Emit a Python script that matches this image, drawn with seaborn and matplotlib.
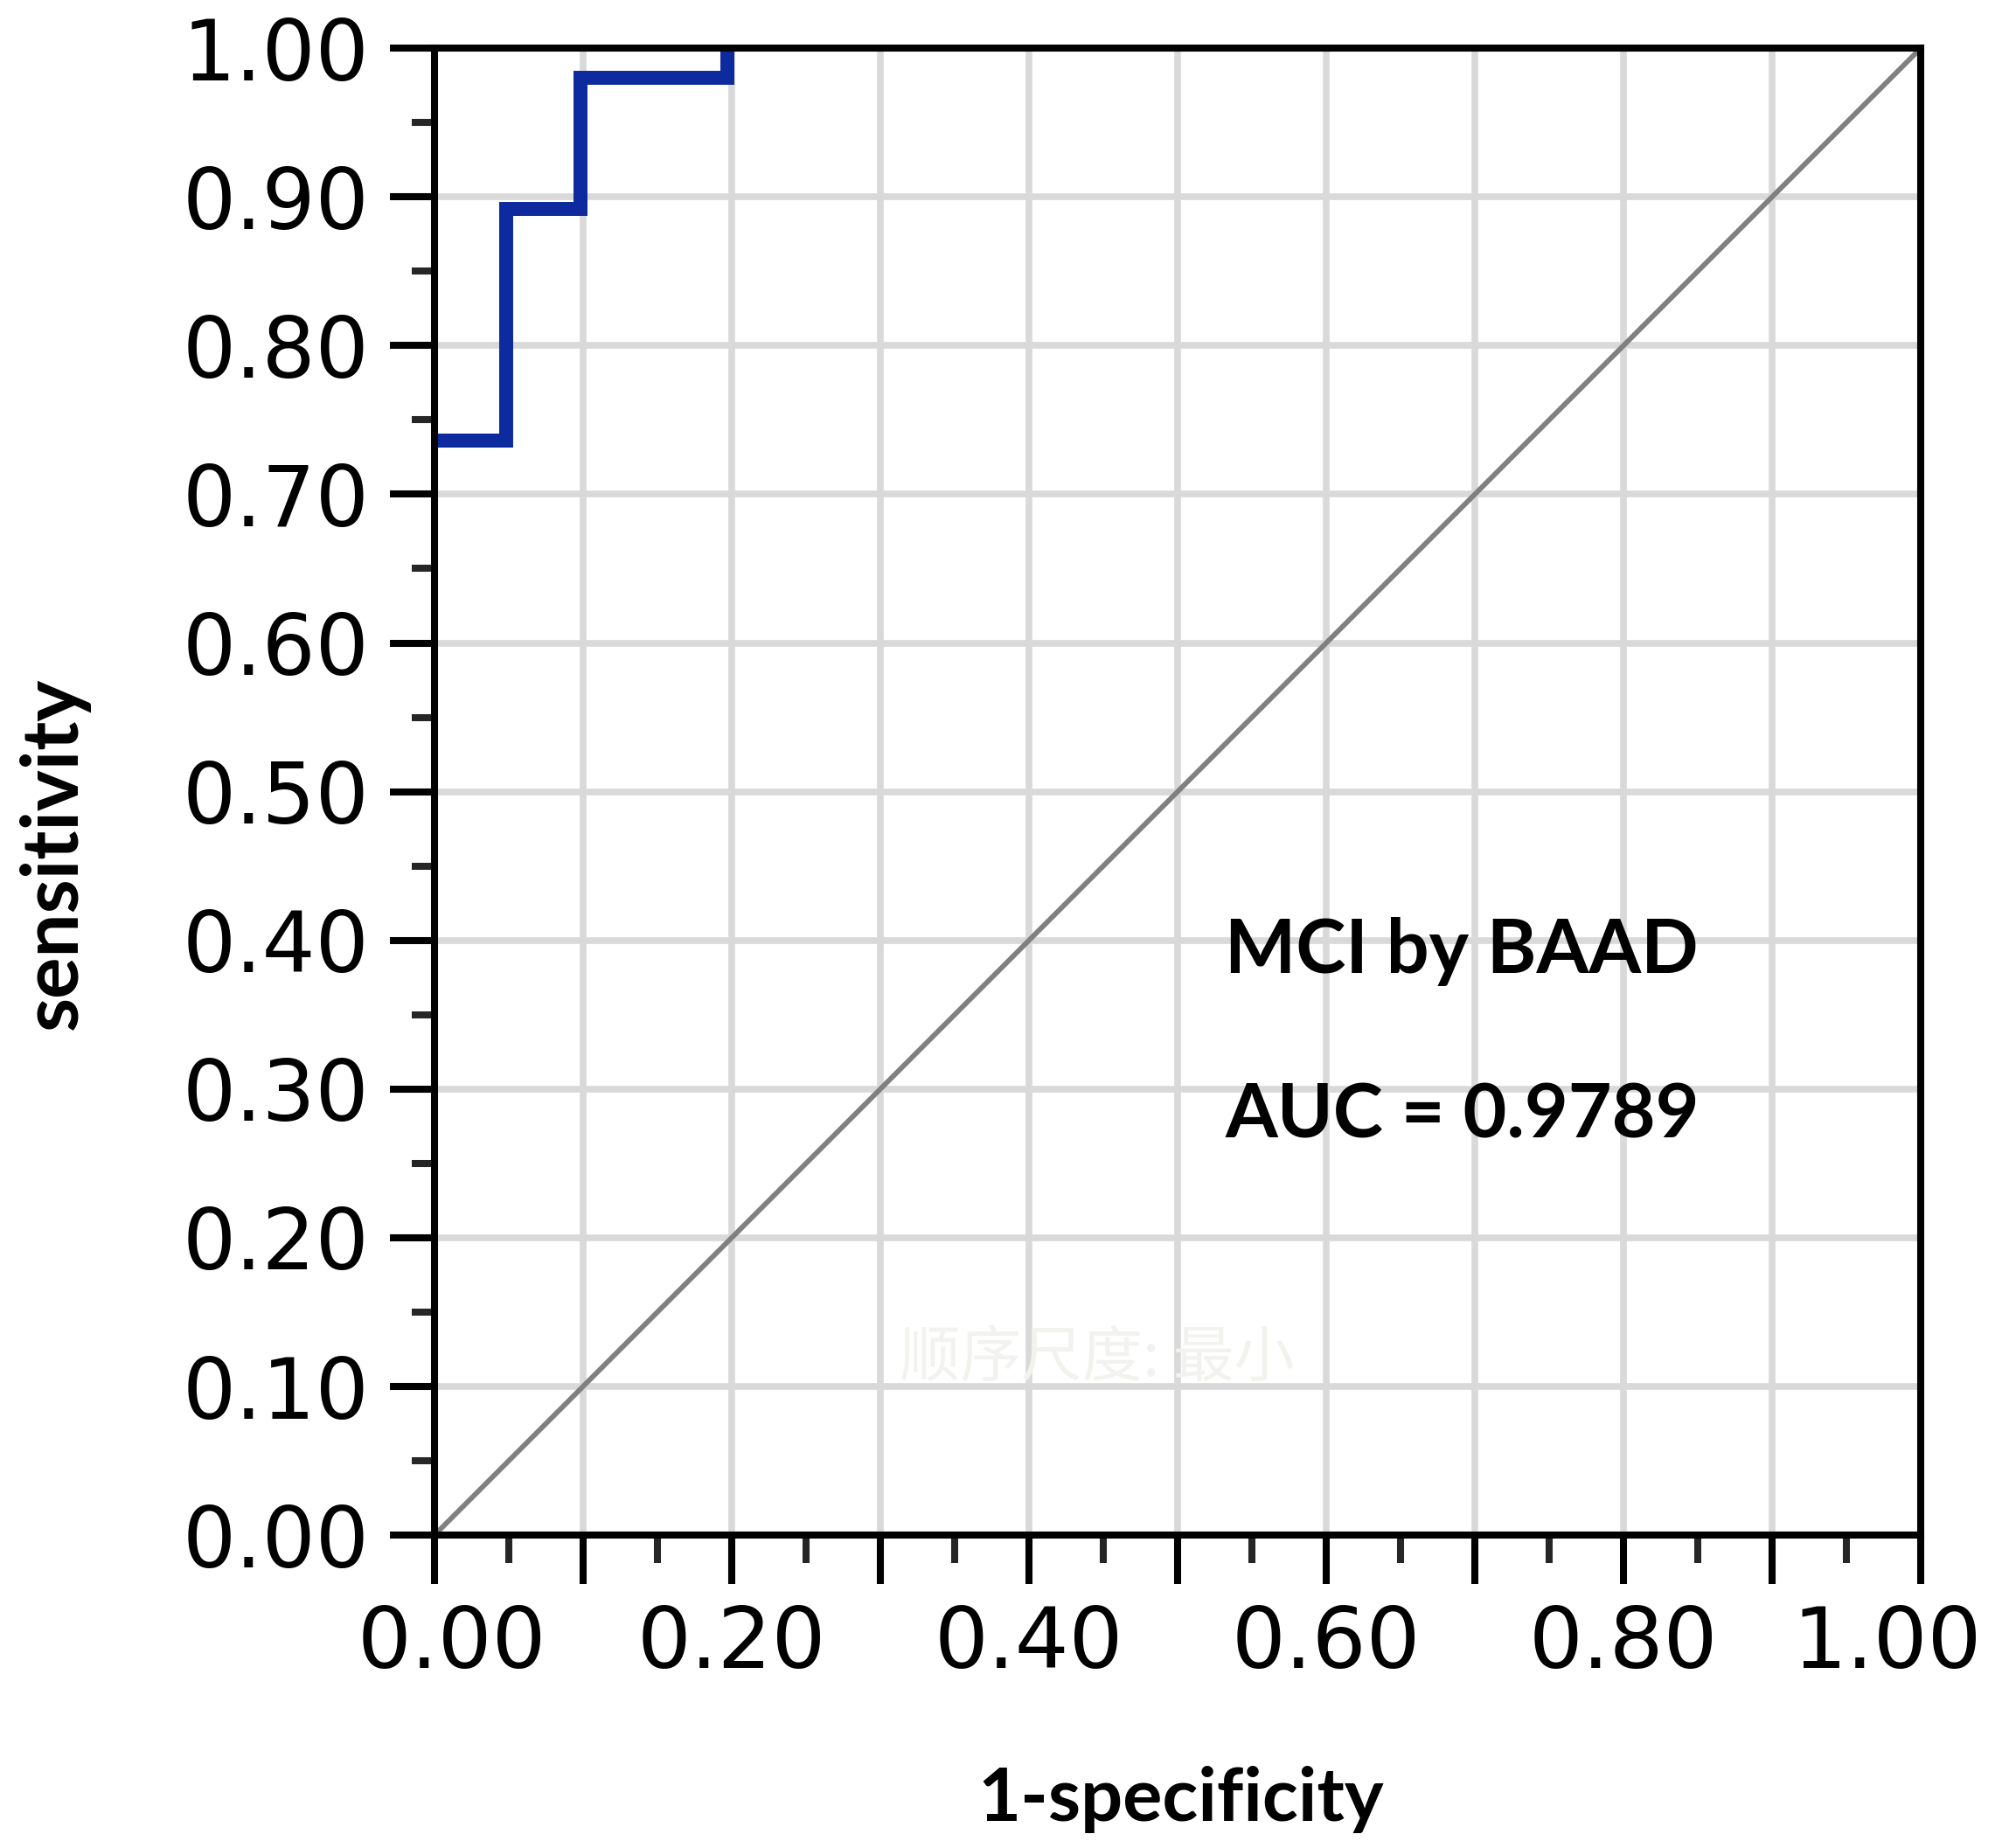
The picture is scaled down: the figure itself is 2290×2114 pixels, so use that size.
import matplotlib
matplotlib.use("Agg")
import matplotlib.pyplot as plt
import matplotlib.transforms as mtransforms
import numpy as np
import pandas as pd
import seaborn as sns

# ROC step points (steps-post)
fpr = [0.0, 0.048, 0.098, 0.197]
tpr = [0.736, 0.892, 0.980, 1.0]
diag = [0.0, 1.0]

y_ticks = np.round(np.arange(0, 1.01, 0.1), 2)
y_labels = ['%.2f' % v for v in y_ticks]
x_ticks = np.round(np.arange(0, 1.01, 0.1), 2)
x_labels = ['%.2f' % v if i % 2 == 0 else '' for i, v in enumerate(x_ticks)]

label_title = 'MCI by BAAD'
label_auc = 'AUC = 0.9789'
watermark = '顺序尺度: 最小'

sns.set_theme(style='white')
plt.rcParams['font.family'] = ['DejaVu Sans', 'Noto Sans CJK SC']
plt.rcParams['text.color'] = 'black'
plt.rcParams['axes.labelcolor'] = 'black'

fig = plt.figure(figsize=(22.9, 21.14), dpi=100)
ax = fig.add_axes([0.2170, 0.1693, 0.7424, 0.8046])

roc = pd.DataFrame({'fpr': fpr, 'tpr': tpr})
sns.lineplot(data=roc, x='fpr', y='tpr', ax=ax, drawstyle='steps-post',
             color='#0d2a9e', linewidth=11.5, solid_joinstyle='miter',
             solid_capstyle='butt', zorder=3)
sns.lineplot(x=diag, y=diag, ax=ax, color='#808080', linewidth=4.2, zorder=2)

ax.set_xlim(0, 1)
ax.set_ylim(0, 1)
ax.set_xticks(x_ticks)
ax.set_xticklabels(x_labels)
ax.set_yticks(y_ticks)
ax.set_yticklabels(y_labels)
ax.set_xticks(np.arange(0.05, 1, 0.1), minor=True)
ax.set_yticks(np.arange(0.05, 1, 0.1), minor=True)

ax.grid(True, which='major', color='#d9d9d9', linewidth=5.5, zorder=0)
ax.set_axisbelow(True)

for s in ax.spines.values():
    s.set_visible(True)
    s.set_color('black')
    s.set_linewidth(5.8)
    s.set_zorder(5)

ax.tick_params(axis='y', which='major', direction='out', length=37, width=5.8,
               pad=16.5, labelsize=69, colors='black', left=True)
ax.tick_params(axis='y', which='minor', direction='out', length=19, width=5.8, left=True)
ax.tick_params(axis='x', which='major', direction='out', length=40, width=5.8,
               pad=17, labelsize=70, colors='black', bottom=True)
ax.tick_params(axis='x', which='minor', direction='out', length=23, width=5.8, bottom=True)

# first and last x labels sit inside their ticks in the reference
xl = ax.get_xticklabels()
xl[0].set_transform(xl[0].get_transform() +
                    mtransforms.ScaledTranslation(0.20, 0, fig.dpi_scale_trans))
xl[-1].set_transform(xl[-1].get_transform() +
                     mtransforms.ScaledTranslation(-0.38, 0, fig.dpi_scale_trans))

ax.set_xlabel('1-specificity', fontsize=61, fontweight='bold', family='Lato')
ax.set_ylabel('sensitivity', fontsize=64, fontweight='bold', family='Lato')
ax.xaxis.label.set_va('baseline')
ax.yaxis.label.set_va('baseline')
ax.xaxis.set_label_coords(0.502, -0.1922)
ax.yaxis.set_label_coords(-0.2406, 0.4586)

ax.text(0.532, 0.378, label_title, fontsize=62, fontweight='bold', family='Lato',
        va='baseline', transform=ax.transAxes, zorder=6)
ax.text(0.532, 0.267, label_auc, fontsize=62, fontweight='bold', family='Lato',
        va='baseline', transform=ax.transAxes, zorder=6)
ax.text(0.446, 0.118, watermark, fontsize=50, color='#f2f2ee', ha='center', va='center',
        family=['Noto Sans CJK SC', 'DejaVu Sans'], transform=ax.transAxes, zorder=1)

fig.savefig('out.png', dpi=100, facecolor='white')
